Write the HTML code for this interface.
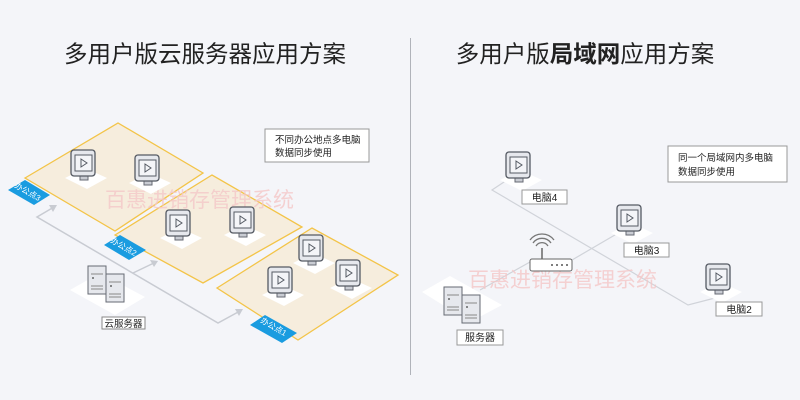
<!DOCTYPE html>
<html><head><meta charset="utf-8"><style>
body{margin:0;background:#f4f5f9;}
svg{display:block;font-family:"Liberation Sans","Noto Sans CJK SC",sans-serif;}
</style></head><body>
<svg width="800" height="400" viewBox="0 0 800 400" xmlns="http://www.w3.org/2000/svg">
<defs>
<g id="mon">
  <polygon points="-18,20 2,10 24,20 4,31" fill="#fff"/>
  <rect x="-3" y="16" width="8" height="6" fill="#c9ccd3" stroke="#666a73" stroke-width="1"/>
  <rect x="-12" y="-8" width="24" height="26" rx="3" fill="#e6e8ed" stroke="#555a63" stroke-width="1.3"/>
  <rect x="-8" y="-3" width="17" height="16" fill="#f4f5f8" stroke="#555a63" stroke-width="1"/>
  <polygon points="-2,1 -2,9 4,5" fill="none" stroke="#555a63" stroke-width="1"/>
</g>
<g id="srv">
  <rect x="0" y="0" width="18" height="28" fill="#e6e8ed" stroke="#666a73"/>
  <line x1="3" y1="8" x2="15" y2="8" stroke="#888"/>
  <line x1="3" y1="20" x2="15" y2="20" stroke="#888"/>
  <line x1="3" y1="23" x2="15" y2="23" stroke="#888"/>
  <circle cx="5" cy="12" r="1" fill="#666"/>
</g>
</defs>
<rect width="800" height="400" fill="#f4f5f9"/>
<text x="205" y="62" font-size="23.5" text-anchor="middle" fill="#222">多用户版云服务器应用方案</text>
<text x="585" y="62" font-size="23.5" text-anchor="middle" fill="#222">多用户版<tspan font-weight="bold">局域网</tspan>应用方案</text>
<line x1="410.5" y1="38" x2="410.5" y2="375" stroke="#b0b3ba"/>

<g stroke="#c8cbd2" stroke-width="1.5" fill="none">
<polyline points="54,207 37,217 218,323 240,311"/>
<polyline points="133,273 156,262"/>
</g>
<g fill="#c8cbd2">
<polygon points="57,205 49,205 53,212"/>
<polygon points="158,261 150,260 154,267"/>
<polygon points="243,309 235,309 239,316"/>
</g>
<g fill="#f6eddd" stroke="#f3c448" stroke-width="1.3">
<polygon points="25,178 118,123 203,173 115,231"/>
<polygon points="115,235 212,175 302,227 203,283"/>
<polygon points="217,288 312,228 398,275 298,340"/>
</g>
<g fill="#1a9ce0">
<polygon points="8,190 25,180 50,195 34,205"/>
<polygon points="104,245 120,235 146,250 129,260"/>
<polygon points="250,325 265,315 297,333 282,343"/>
</g>
<g fill="#fff" font-size="8">
<text transform="translate(14,187) rotate(30)">办公点3</text>
<text transform="translate(110,242) rotate(30)">办公点2</text>
<text transform="translate(260,322) rotate(30)">办公点1</text>
</g>
<text x="105" y="207" font-size="21" fill="#f4c8c8" opacity="0.8">百惠进销存管理系统</text>
<use href="#mon" x="83" y="158"/>
<use href="#mon" x="147" y="163"/>
<use href="#mon" x="178" y="218"/>
<use href="#mon" x="242" y="215"/>
<use href="#mon" x="280" y="275"/>
<use href="#mon" x="311" y="243"/>
<use href="#mon" x="348" y="268"/>
<polygon points="70,290 100,273 145,297 115,315" fill="#fff"/>
<use href="#srv" x="88" y="266"/>
<use href="#srv" x="106" y="274"/>
<rect x="102" y="317" width="43" height="12" fill="#fff" stroke="#888"/>
<text x="123.5" y="327" font-size="9.5" text-anchor="middle" fill="#222">云服务器</text>
<rect x="265" y="129" width="104" height="33" fill="#fff" stroke="#999"/>
<text x="275" y="143" font-size="9.5" fill="#222">不同办公地点多电脑</text>
<text x="275" y="156" font-size="9.5" fill="#222">数据同步使用</text>

<g stroke="#d0d3d9" stroke-width="1.2" fill="none">
<polyline points="507,180 492,190 688,305 715,298"/>
<polyline points="572,260 620,232"/>
<polyline points="530,262 480,290"/>
</g>
<text x="468" y="287" font-size="21" fill="#f4c8c8" opacity="0.8">百惠进销存管理系统</text>
<use href="#mon" x="518" y="160"/>
<use href="#mon" x="629" y="213"/>
<use href="#mon" x="718" y="272"/>
<rect x="522" y="190" width="45" height="14" fill="#fff" stroke="#999"/>
<text x="544.5" y="201" font-size="10" text-anchor="middle" fill="#222">电脑4</text>
<rect x="624" y="243" width="45" height="14" fill="#fff" stroke="#999"/>
<text x="646.5" y="254" font-size="10" text-anchor="middle" fill="#222">电脑3</text>
<rect x="716" y="302" width="46" height="14" fill="#fff" stroke="#999"/>
<text x="739" y="313" font-size="10" text-anchor="middle" fill="#222">电脑2</text>
<path d="M536,246 a7,7 0 0 1 12,0 M533,243 a11,11 0 0 1 18,0 M530,240 a15,15 0 0 1 24,0" stroke="#777" fill="none" stroke-width="1.3"/>
<line x1="542" y1="248" x2="542" y2="259" stroke="#666" stroke-width="1.5"/>
<rect x="530" y="259" width="42" height="12" rx="2" fill="#fff" stroke="#666"/>
<g fill="#555"><circle cx="552" cy="265" r="1"/><circle cx="557" cy="265" r="1"/><circle cx="562" cy="265" r="1"/><circle cx="567" cy="265" r="1"/></g>
<polygon points="422,292 450,276 502,305 470,322" fill="#fff"/>
<use href="#srv" x="444" y="287"/>
<use href="#srv" x="462" y="295"/>
<rect x="457" y="330" width="46" height="15" fill="#fff" stroke="#999"/>
<text x="480" y="341" font-size="10" text-anchor="middle" fill="#222">服务器</text>
<rect x="668" y="146" width="119" height="36" fill="#fff" stroke="#999"/>
<text x="678" y="161" font-size="9.5" fill="#222">同一个局域网内多电脑</text>
<text x="678" y="175" font-size="9.5" fill="#222">数据同步使用</text>
</svg>
</body></html>
